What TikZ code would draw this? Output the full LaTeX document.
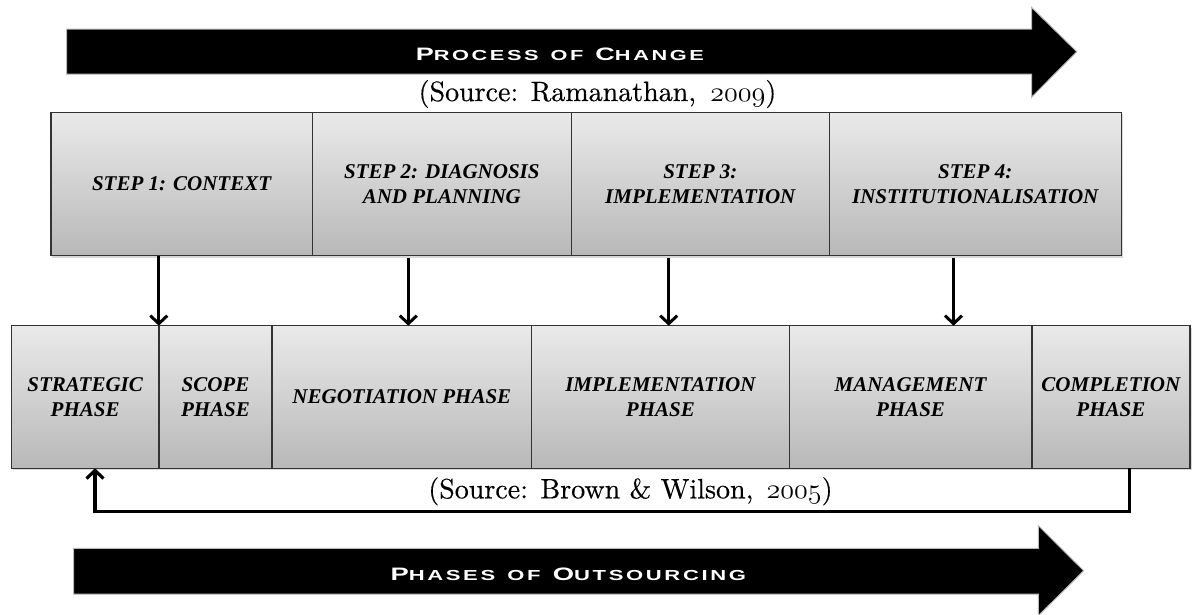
\documentclass[tikz,border=0pt]{standalone}
\usepackage{fontspec}
\usepackage{graphicx}
\usetikzlibrary{arrows.meta,shadows}
\setmainfont{Liberation Serif}
\newfontfamily\srcfont{lmroman10-regular.otf}[FakeBold=0.4]
\newfontfamily\arrfont{Liberation Sans Bold}[LetterSpace=12]
\newcommand\scw[2]{{\fontsize{18}{18}\selectfont #1}{\fontsize{14.5}{18}\selectfont #2}}
\newcommand\wsp{\hspace{4pt}}
\newcommand\osn[1]{\resizebox{!}{12.1pt}{$\mathnormal{#1}$}}
\definecolor{boxtop}{HTML}{EAEAEA}
\definecolor{boxbot}{HTML}{B8B8B8}
\tikzset{
  box/.style={draw=black!80, line width=1.4pt, top color=boxtop, bottom color=boxbot,
    inner sep=0pt, outer sep=0pt, align=center,
    font=\bfseries\itshape\fontsize{21}{25.5}\selectfont,
    drop shadow={shadow xshift=1.5pt, shadow yshift=-2pt, opacity=0.3}},
  toprow/.style={box, minimum height=143.4pt},
  botrow/.style={box, minimum height=142.6pt},
  dn/.style={line width=3pt, -{Straight Barb[length=8pt,width=17pt,line width=3pt]}},
  fbline/.style={line width=3.2pt},
  fb/.style={fbline, -{Straight Barb[length=8pt,width=17pt,line width=3.2pt]}},
  bigarrow/.style={fill=black, draw=gray!55, line width=1pt},
  arrtxt/.style={text=white, font=\arrfont, inner sep=0pt},
  src/.style={font=\srcfont\fontsize{28}{30}\selectfont, inner sep=0pt}
}
\begin{document}
\begin{tikzpicture}[x=1pt,y=-1pt]
\fill[white] (0,0) rectangle (1192,614);
\useasboundingbox (0,0) rectangle (1192,614);

% big arrows
\path[bigarrow] (66.6,29) -- (1031.5,29) -- (1031.5,7.3) -- (1076.8,51.7) -- (1031.5,97.3) -- (1031.5,74) -- (66.6,74) -- cycle;
\path[bigarrow] (73.5,548.3) -- (1038.4,548.3) -- (1038.4,525.7) -- (1083.7,570.7) -- (1038.4,615.7) -- (1038.4,594) -- (73.5,594) -- cycle;
\node[arrtxt, anchor=base] (pc) at (559.9,60.7) {\scalebox{1.5}[1]{\scw{P}{ROCESS}\wsp{} \scw{}{OF}\wsp{} \scw{C}{HANGE}}};
\node[arrtxt, anchor=base] (po) at (568.3,580) {\scalebox{1.52}[1]{\scw{P}{HASES}\wsp{} \scw{}{OF}\wsp{} \scw{O}{UTSOURCING}}};

% sources
\node[src, anchor=base] (s1) at (597.5,101) {(Source: Ramanathan,\hspace{5pt} \osn{2009})};
\node[src, anchor=base] (s2) at (630.5,498.3) {(Source: Brown \& Wilson,\hspace{4pt} \osn{2005})};

% top row
\node[toprow, minimum width=261.4pt] (t1) at (181.6,184) {STEP 1: CONTEXT};
\node[toprow, minimum width=259.1pt] (t2) at (441.85,184) {STEP 2: DIAGNOSIS\\AND PLANNING};
\node[toprow, minimum width=257.8pt] (t3) at (700.3,184) {STEP 3:\\IMPLEMENTATION};
\node[toprow, minimum width=292.1pt] (t4) at (975.25,184) {STEP 4:\\INSTITUTIONALISATION};

% bottom row
\node[botrow, minimum width=147.3pt] (b1) at (85.15,397) {STRATEGIC\\PHASE};
\node[botrow, minimum width=113.3pt] (b2) at (215.45,397) {SCOPE\\PHASE};
\node[botrow, minimum width=259.5pt] (b3) at (401.85,397) {NEGOTIATION PHASE};
\node[botrow, minimum width=257.6pt] (b4) at (660.4,397) {IMPLEMENTATION\\PHASE};
\node[botrow, minimum width=242.6pt] (b5) at (910.5,397) {MANAGEMENT\\PHASE};
\node[botrow, minimum width=158.2pt] (b6) at (1110.9,397) {COMPLETION\\PHASE};

% down arrows
\coordinate (a1) at (158.8,0);
\coordinate (a2) at (408.3,0);
\coordinate (a3) at (668.7,0);
\coordinate (a4) at (953.5,0);
\draw[dn] (t1.south -| a1) -- (b1.north -| a1);
\draw[dn] ([yshift=-2.5pt]t2.south -| a2) -- (b3.north -| a2);
\draw[dn] ([yshift=-2.5pt]t3.south -| a3) -- (b4.north -| a3);
\draw[dn] ([yshift=-2.5pt]t4.south -| a4) -- (b5.north -| a4);

% feedback
\coordinate (c1) at (1129.3,0);
\coordinate (c2) at (95,0);
\coordinate (fy) at (0,511.7);
\draw[fbline, line join=miter] (b6.south -| c1) -- (c1 |- fy) -- (c2 |- fy) -- ([yshift=-1pt]c2 |- fy);
\draw[fb] ([yshift=-1.4pt]c2 |- fy) -- (b1.south -| c2);
\end{tikzpicture}
\end{document}
